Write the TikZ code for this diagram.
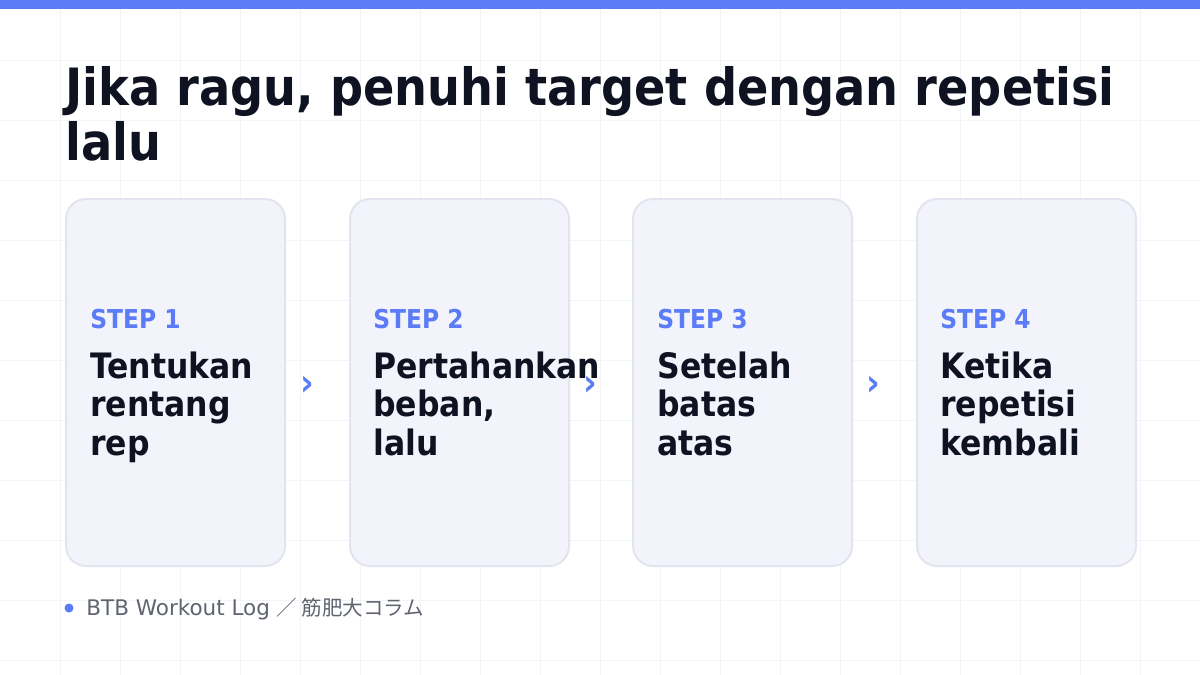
\documentclass[tikz,border=0pt]{standalone}
\usepackage{fontspec}
\setmainfont{DejaVu Sans Condensed}
\newfontfamily\footfont{DejaVu Sans}
\newfontfamily\cjk{Noto Sans CJK JP}
\usetikzlibrary{positioning}
\definecolor{accent}{RGB}{91,124,246}
\definecolor{ink}{RGB}{15,18,33}
\definecolor{cardfill}{RGB}{243,244,251}
\definecolor{cardline}{RGB}{226,229,240}
\definecolor{gridline}{RGB}{243,244,247}
\definecolor{muted}{RGB}{95,100,112}
\tikzset{every picture/.style={line width=0.75pt}}
\tikzset{
  card/.style={draw=cardline, fill=cardfill, line width=2pt, rounded corners=20pt,
    minimum width=219pt, minimum height=367pt, anchor=north west, inner sep=0pt},
  steplabel/.style={anchor=base west, inner sep=0pt, text=accent,
    font=\bfseries\fontsize{26}{26}\selectfont},
  stepbody/.style={anchor=base west, inner sep=0pt, text=ink, align=left,
    font=\bfseries\fontsize{35}{38.5}\selectfont},
  chevron/.style={text=accent, inner sep=0pt, font=\bfseries\fontsize{37}{37}\selectfont},
}

\begin{document}
\begin{tikzpicture}[x=1pt,y=1pt,yscale=-1,xscale=1]
\useasboundingbox (0,0) rectangle (1200,675);
\fill [white] (0,0) rectangle (1200,675);

%Grid
\foreach \gx in {60,120,...,1140} \draw [gridline, line width=1pt] (\gx,9) -- (\gx,675);
\foreach \gy in {60,120,...,660} \draw [gridline, line width=1pt] (0,\gy) -- (1200,\gy);

%Shape: Top bar
\fill [accent] (0,0) rectangle (1200,9);

% Text Node: title (base = last line)
\node (title) [anchor=base west, inner sep=0pt, text=ink, align=left,
  font=\bfseries\fontsize{51.4}{55}\selectfont] at (65,160)
  {Jika ragu, penuhi target dengan repetisi\\lalu};

%Shape: Cards
\node (card1) [card] at (65,198) {};
\node (card2) [card] at (349,198) {};
\node (card3) [card] at (632,198) {};
\node (card4) [card] at (916,198) {};

% Text Node
\node (step1) [steplabel] at (90,328) {STEP 1};
\node (body1) [stepbody] at (90,455) {Tentukan\\rentang\\rep};
% Text Node
\node (step2) [steplabel] at (373,328) {STEP 2};
\node (body2) [stepbody] at (373,455) {Pertahankan\\beban,\\lalu};
% Text Node
\node (step3) [steplabel] at (657,328) {STEP 3};
\node (body3) [stepbody] at (657,455) {Setelah\\batas\\atas};
% Text Node
\node (step4) [steplabel] at (940,328) {STEP 4};
\node (body4) [stepbody] at (940,455) {Ketika\\repetisi\\kembali};

%Chevrons
\node (chev12) [chevron] at (307,386) {›};
\node (chev23) [chevron] at (590,386) {›};
\node (chev34) [chevron] at (873,386) {›};

%Footer
\fill [accent] (69,608) circle (4.5);
\node (footer) [anchor=base west, inner sep=0pt, text=muted,
  font=\footfont\fontsize{21.5}{21.5}\selectfont] at (86,615)
  {BTB Workout Log {\cjk\fontsize{20.5}{20.5}\selectfont ／ 筋肥大コラム}};

\end{tikzpicture}
\end{document}
